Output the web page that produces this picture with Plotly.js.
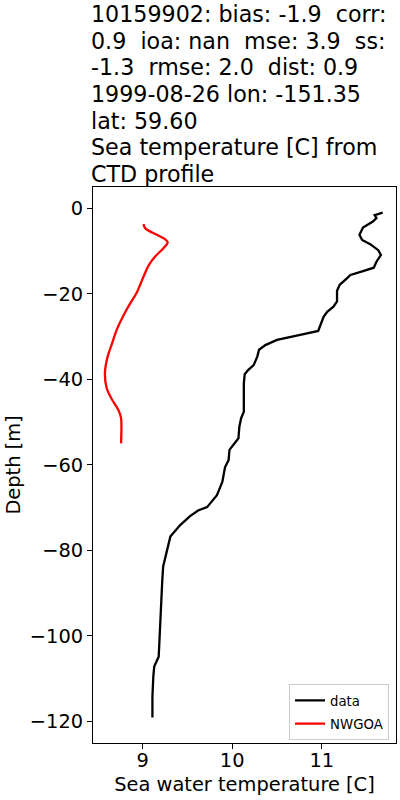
<!DOCTYPE html>
<html>
<head>
<meta charset="utf-8">
<script src="https://cdn.plot.ly/plotly-3.0.1.min.js"></script>
<style>html,body{margin:0;padding:0;background:#fff;}#chart{width:400px;height:800px;}</style>
</head>
<body>
<div id="chart"></div>
<script>
// Observed CTD profile ("data")
const dataTemp = [11.68, 11.59, 11.61, 11.57, 11.46, 11.42, 11.45, 11.54, 11.63, 11.66,
  11.61, 11.58, 11.46, 11.32, 11.28, 11.20, 11.17, 11.17, 11.13, 11.06,
  11.02, 10.99, 10.96, 10.72, 10.50, 10.37, 10.30, 10.28, 10.24, 10.18,
  10.14, 10.13, 10.13, 10.13, 10.10, 10.08, 10.07, 10.01, 9.97, 9.96,
  9.92, 9.89, 9.83, 9.72, 9.62, 9.53, 9.42, 9.31, 9.27, 9.23,
  9.22, 9.21, 9.20, 9.20, 9.18, 9.13, 9.12, 9.11, 9.11];
const dataDepth = [-1.0, -1.6, -2.3, -3.1, -4.5, -6.2, -7.4, -8.4, -9.8, -10.9,
  -12.5, -13.9, -14.7, -15.6, -16.4, -17.9, -19.3, -21.8, -23.0, -24.2,
  -25.4, -27.3, -28.7, -29.8, -30.8, -32.0, -33.1, -34.7, -36.7, -37.8,
  -38.8, -40.9, -44.1, -47.6, -49.1, -51.1, -53.8, -55.4, -56.5, -58.9,
  -60.6, -64.0, -67.1, -69.9, -70.7, -72.0, -74.1, -76.8, -80.7, -83.8,
  -87.0, -91.6, -96.0, -98.7, -104.9, -107.2, -109.6, -114.2, -119.1];

// Model profile ("NWGOA")
const modelTemp = [9.01, 9.03, 9.16, 9.25, 9.28, 9.23, 9.14, 9.07, 9.01, 8.94,
  8.83, 8.71, 8.66, 8.61, 8.58, 8.60, 8.66, 8.73, 8.76, 8.76];
const modelDepth = [-3.7, -4.7, -6.2, -7.2, -8.0, -9.4, -11.3, -13.3, -16.0, -19.5,
  -23.4, -28.5, -31.6, -34.7, -38.6, -42.1, -44.8, -47.2, -49.1, -55.0];

const seriesNames = ["data", "NWGOA"];
const titleLines = [
  "10159902: bias: -1.9  corr:",
  "0.9  ioa: nan  mse: 3.9  ss:",
  "-1.3  rmse: 2.0  dist: 0.9",
  "1999-08-26 lon: -151.35",
  "lat: 59.60",
  "Sea temperature [C] from",
  "CTD profile"
];
const xTicks = [9, 10, 11];
const yTicks = [0, -20, -40, -60, -80, -100, -120];
const xLabel = "Sea water temperature [C]";
const yLabel = "Depth [m]";

const FONT = "DejaVu Sans, sans-serif";
const plotTop = 187, plotBottom = 742.7;
function paperY(px) { return (plotBottom - px) / (plotBottom - plotTop); }

const traces = [
  {x: dataTemp, y: dataDepth, mode: "lines", name: seriesNames[0], legendgroup: "a",
   line: {color: "#000000", width: 2.3}},
  {x: modelTemp, y: modelDepth, mode: "lines", name: seriesNames[1], legendgroup: "b",
   line: {color: "#ff0000", width: 2.3, shape: "spline", smoothing: 0.8}}
];

const annotations = titleLines.map((t, i) => ({
  text: t, xref: "paper", yref: "paper", x: 0, xanchor: "left", xshift: -4,
  y: paperY(21.7 + 26.6 * i - 7.5), yanchor: "middle", showarrow: false,
  font: {family: FONT, size: 22.2, color: "#000"}
}));

const layout = {
  width: 400, height: 800,
  margin: {l: 92.7, r: 4, t: plotTop, b: 800 - plotBottom},
  paper_bgcolor: "#fff", plot_bgcolor: "#fff",
  font: {family: FONT, color: "#000"},
  showlegend: true,
  legend: {
    x: 0.977, y: 0.005, xanchor: "right", yanchor: "bottom",
    bgcolor: "rgba(255,255,255,0.8)", bordercolor: "#cccccc", borderwidth: 1,
    font: {family: FONT, size: 13.3, color: "#000"},
    traceorder: "grouped", tracegroupgap: 3
  },
  xaxis: {
    range: [8.447, 11.828], tickvals: xTicks, ticktext: xTicks.map(String),
    ticks: "outside", ticklen: 5, tickwidth: 1, tickcolor: "#000",
    ticklabelstandoff: -5,
    showgrid: false, zeroline: false, showline: true, mirror: true,
    linecolor: "#000", linewidth: 1,
    tickfont: {family: FONT, size: 19.4, color: "#000"},
    title: {text: xLabel, font: {family: FONT, size: 19.4, color: "#000"}, standoff: 6}
  },
  yaxis: {
    range: [-125.08, 4.98], tickvals: yTicks,
    ticks: "outside", ticklen: 5, tickwidth: 1, tickcolor: "#000",
    showgrid: false, zeroline: false, showline: true, mirror: true,
    linecolor: "#000", linewidth: 1,
    tickfont: {family: FONT, size: 19.4, color: "#000"},
    title: {text: yLabel, font: {family: FONT, size: 19.4, color: "#000"}, standoff: 4}
  },
  annotations: annotations
};

Plotly.newPlot("chart", traces, layout, {displayModeBar: false, staticPlot: true});
</script>
</body>
</html>
